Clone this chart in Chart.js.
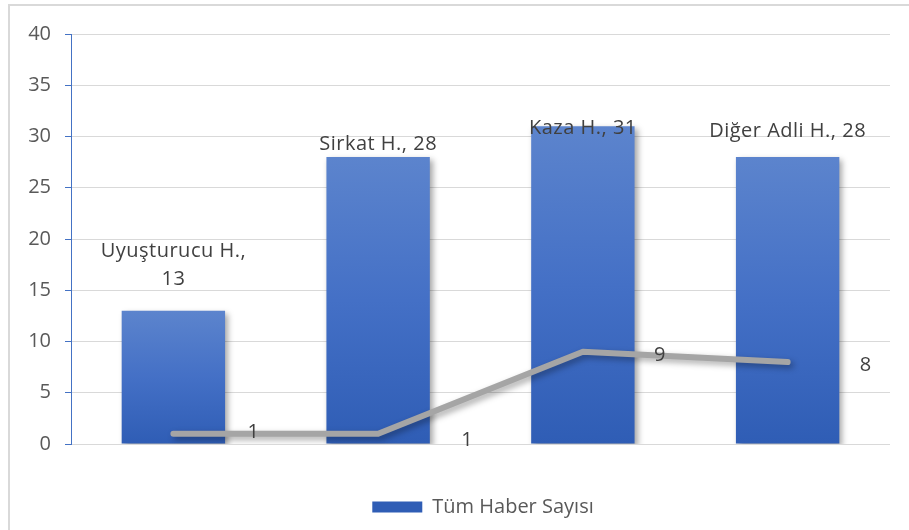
<!DOCTYPE html>
<html lang="tr">
<head>
    <meta charset="UTF-8">
    <title>Haber Sayıları</title>
    <script src="https://cdn.jsdelivr.net/npm/chart.js"></script>
    <style>
        body {
            margin: 0;
            background: #fff;
            font-family: "Open Sans", sans-serif;
        }
        .frame {
            position: absolute;
            left: 8px;
            top: 4px;
            width: 920px;
            height: 560px;
            border-top: 2px solid #d9d9d9;
            border-left: 2px solid #d9d9d9;
        }
        .chart-box {
            position: absolute;
            left: 0;
            top: 0;
            width: 909px;
            height: 530px;
        }
    </style>
</head>
<body>
    <div class="frame"></div>
    <div class="chart-box">
        <canvas id="haberChart" width="909" height="530"></canvas>
    </div>

    <script>
        // Data
        const categories = ["Uyuşturucu H.", "Sirkat H.", "Kaza H.", "Diğer Adli H."];
        const tumHaber = [13, 28, 31, 28];
        const ikinciSeri = [1, 1, 9, 8];
        const yTicks = [0, 5, 10, 15, 20, 25, 30, 35, 40];

        const seriesName = "Tüm Haber Sayısı";
        const textFont = "'Open Sans', sans-serif";
        const fontSize = 20;

        // small manual nudges for labels (pixels), like in the source workbook
        const barLabelNudge = [[0, -20], [0, -13], [0, 2], [0, -26]];
        const lineLabelNudge = [[80, -1], [89, 7], [77, 4], [78, 3]];

        function barGradient(ctx, top, bottom) {
            const g = ctx.createLinearGradient(0, top, 0, bottom);
            g.addColorStop(0, "#5c84cd");
            g.addColorStop(0.5, "#4470c6");
            g.addColorStop(1, "#2f5db5");
            return g;
        }

        const shadowPlugin = {
            id: "softShadow",
            beforeDatasetDraw(chart) {
                const ctx = chart.ctx;
                ctx.save();
                ctx.shadowColor = "rgba(0,0,0,0.35)";
                ctx.shadowBlur = 6;
                ctx.shadowOffsetX = 3;
                ctx.shadowOffsetY = 3;
            },
            afterDatasetDraw(chart) {
                chart.ctx.restore();
            }
        };

        // move the legend a bit to the right, like in the original
        const legendShift = {
            id: "legendShift",
            afterLayout(chart) {
                chart.legend.left += 38;
                chart.legend.right += 38;
            }
        };

        const labelPlugin = {
            id: "valueLabels",
            afterDatasetsDraw(chart) {
                const ctx = chart.ctx;
                ctx.save();
                ctx.font = fontSize + "px " + textFont;
                ctx.letterSpacing = "0.5px";
                ctx.fillStyle = "#404040";
                ctx.textAlign = "center";
                ctx.textBaseline = "middle";

                const barMeta = chart.getDatasetMeta(1);
                barMeta.data.forEach((el, i) => {
                    const x = el.x + barLabelNudge[i][0];
                    const y = el.y + barLabelNudge[i][1];
                    if (i === 0) {
                        ctx.fillText(categories[i] + ",", x, y - 39);
                        ctx.fillText(String(tumHaber[i]), x, y - 11);
                    } else {
                        ctx.fillText(categories[i] + ", " + tumHaber[i], x, y);
                    }
                });

                const lineMeta = chart.getDatasetMeta(0);
                lineMeta.data.forEach((el, i) => {
                    ctx.fillText(String(ikinciSeri[i]), el.x + lineLabelNudge[i][0], el.y + lineLabelNudge[i][1]);
                });
                ctx.restore();
            }
        };

        const config = {
            type: "bar",
            data: {
                labels: categories,
                datasets: [
                    {
                        type: "line",
                        label: "Seri 2",
                        data: ikinciSeri,
                        order: 0,
                        borderColor: "#a5a5a5",
                        borderWidth: 6,
                        borderCapStyle: "round",
                        borderJoinStyle: "round",
                        pointRadius: 0,
                        tension: 0,
                        fill: false
                    },
                    {
                        type: "bar",
                        label: seriesName,
                        data: tumHaber,
                        order: 1,
                        categoryPercentage: 1,
                        barPercentage: 0.505,
                        backgroundColor(context) {
                            const chart = context.chart;
                            if (!chart.chartArea || context.type !== "data") return "#4472c4";
                            const yScale = chart.scales.y;
                            const top = yScale.getPixelForValue(context.parsed.y);
                            return barGradient(chart.ctx, top, yScale.getPixelForValue(0));
                        }
                    }
                ]
            },
            options: {
                responsive: false,
                animation: false,
                layout: {
                    padding: { top: 34, right: 19, left: 0, bottom: 3 }
                },
                plugins: {
                    legend: {
                        position: "bottom",
                        labels: {
                            boxWidth: 50,
                            boxHeight: 11,
                            color: "#595959",
                            font: { family: textFont, size: fontSize },
                            padding: 10,
                            filter: item => item.datasetIndex === 1
                        }
                    },
                    tooltip: { enabled: false }
                },
                scales: {
                    x: {
                        grid: { display: false },
                        border: { display: false },
                        ticks: { display: false },
                        afterFit(scale) { scale.height = 43; }
                    },
                    y: {
                        min: 0,
                        max: 40,
                        afterBuildTicks(scale) {
                            scale.ticks = yTicks.map(v => ({ value: v }));
                        },
                        afterFit(scale) { scale.width = 71; },
                        grid: {
                            color: "#d9d9d9",
                            lineWidth: 1,
                            tickColor: "#4472c4",
                            tickLength: 6
                        },
                        border: { color: "#4472c4", width: 1 },
                        ticks: {
                            color: "#595959",
                            padding: 14,
                            font: { family: textFont, size: fontSize }
                        }
                    }
                }
            },
            plugins: [shadowPlugin, legendShift, labelPlugin]
        };

        new Chart(document.getElementById("haberChart"), config);
    </script>
</body>
</html>
